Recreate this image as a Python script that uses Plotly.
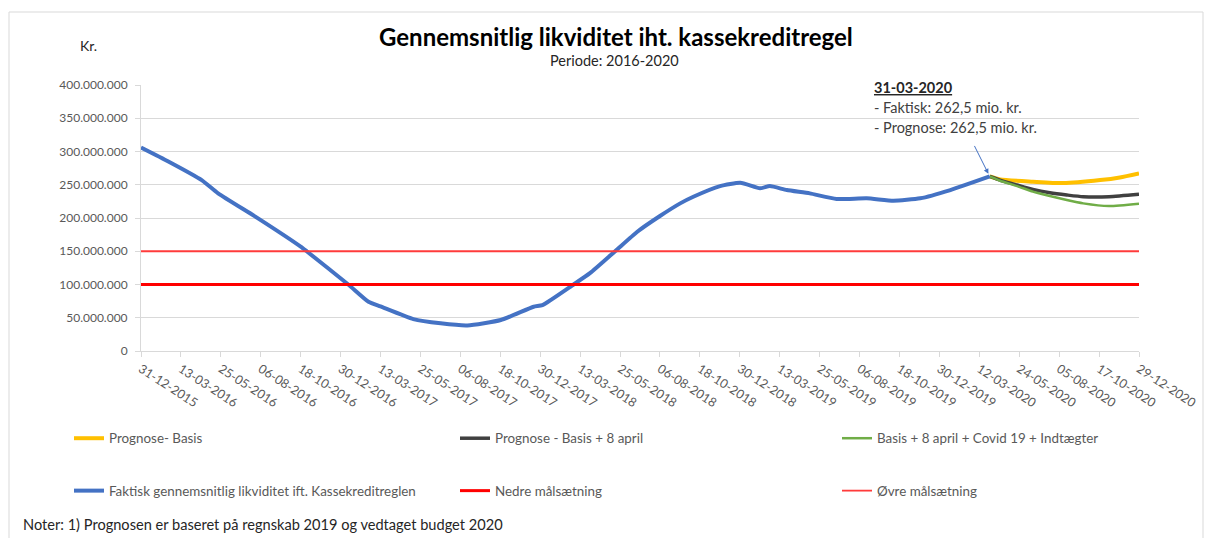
import plotly.graph_objects as go
from datetime import datetime

# ---------------- data ----------------
faktisk_dates = ["2015-12-31", "2016-02-19", "2016-04-20", "2016-05-20", "2016-08-01",
                 "2016-10-18", "2016-10-29", "2017-01-13", "2017-02-19", "2017-03-13",
                 "2017-05-12", "2017-07-01", "2017-08-19", "2017-10-19", "2017-12-18",
                 "2018-01-03", "2018-03-01", "2018-03-31", "2018-05-16", "2018-06-25",
                 "2018-08-06", "2018-09-12", "2018-10-06", "2018-11-24", "2018-12-31",
                 "2019-02-05", "2019-02-23", "2019-03-26", "2019-05-07", "2019-06-25",
                 "2019-08-19", "2019-10-07", "2019-11-25", "2020-01-19", "2020-03-31"]
faktisk_values = [306.0, 285.0, 257.0, 237.0, 199.5,
                  157.0, 150.0, 100.0, 74.0, 67.0,
                  48.0, 41.6, 38.5, 46.6, 66.6,
                  69.0, 100.0, 117.0, 150.0, 179.0,
                  203.0, 222.0, 232.0, 248.0, 253.0,
                  244.6, 248.0, 242.0, 237.0, 228.6,
                  229.6, 226.0, 229.6, 242.0, 262.5]

basis_dates = ["2020-03-31", "2020-04-19", "2020-06-18", "2020-08-12", "2020-10-19",
               "2020-11-24", "2020-12-29"]
basis_values = [262.5, 258.0, 254.6, 252.5, 257.0, 261.0, 267.0]

april_dates = ["2020-03-31", "2020-04-19", "2020-05-20", "2020-06-18", "2020-07-19",
               "2020-08-19", "2020-09-18", "2020-11-04", "2020-12-29"]
april_values = [262.5, 257.0, 249.6, 243.0, 238.0, 234.6, 232.0, 232.0, 235.6]

covid_dates = ["2020-03-31", "2020-04-19", "2020-05-20", "2020-06-18", "2020-07-19",
               "2020-08-19", "2020-09-18", "2020-11-04", "2020-12-29"]
covid_values = [262.5, 256.0, 248.0, 239.6, 233.0, 227.0, 222.0, 218.0, 221.5]

nedre_value = 100.0   # mio. kr.
ovre_value = 150.0    # mio. kr.

tick_labels = ["31-12-2015", "13-03-2016", "25-05-2016", "06-08-2016", "18-10-2016",
               "30-12-2016", "13-03-2017", "25-05-2017", "06-08-2017", "18-10-2017",
               "30-12-2017", "13-03-2018", "25-05-2018", "06-08-2018", "18-10-2018",
               "30-12-2018", "13-03-2019", "25-05-2019", "06-08-2019", "18-10-2019",
               "30-12-2019", "12-03-2020", "24-05-2020", "05-08-2020", "17-10-2020",
               "29-12-2020"]

MIO = 1_000_000
tick_vals = [datetime.strptime(t, "%d-%m-%Y").strftime("%Y-%m-%d") for t in tick_labels]
x_start, x_end = tick_vals[0], tick_vals[-1]

FONT = "Lato"
GRAY = "#595959"

fig = go.Figure()

fig.add_trace(go.Scatter(x=basis_dates, y=[v * MIO for v in basis_values], mode="lines",
                         name="Prognose- Basis", line=dict(color="#FFC000", width=4, shape="spline", smoothing=0.6),
                         legend="legend", legendgroup="a"))
fig.add_trace(go.Scatter(x=april_dates, y=[v * MIO for v in april_values], mode="lines",
                         name="Prognose - Basis + 8 april", line=dict(color="#404040", width=3.5, shape="spline", smoothing=0.6),
                         legend="legend2", legendgroup="b"))
fig.add_trace(go.Scatter(x=covid_dates, y=[v * MIO for v in covid_values], mode="lines",
                         name="Basis + 8 april + Covid 19 + Indtægter", line=dict(color="#70AD47", width=2.5, shape="spline", smoothing=0.6),
                         legend="legend3", legendgroup="c"))
fig.add_trace(go.Scatter(x=faktisk_dates, y=[v * MIO for v in faktisk_values], mode="lines",
                         name="Faktisk gennemsnitlig likviditet ift. Kassekreditreglen",
                         line=dict(color="#4472C4", width=4, shape="spline", smoothing=0.5),
                         legend="legend", legendgroup="d"))
fig.add_trace(go.Scatter(x=[x_start, x_end], y=[nedre_value * MIO] * 2, mode="lines",
                         name="Nedre målsætning", line=dict(color="#FF0000", width=3),
                         legend="legend2", legendgroup="e"))
fig.add_trace(go.Scatter(x=[x_start, x_end], y=[ovre_value * MIO] * 2, mode="lines",
                         name="Øvre målsætning", line=dict(color="#FF3B3B", width=1.8),
                         legend="legend3", legendgroup="f"))

L, R, T, B = 141, 66, 85, 187
W, H = 1205, 538
pw, ph = W - L - R, H - T - B


def px(x):
    return (x - L) / pw


def py(y):
    return (H - B - y) / ph


legend_common = dict(orientation="v", yanchor="top", xanchor="left", traceorder="grouped",
                     tracegroupgap=32, font=dict(family=FONT, size=13.4, color=GRAY),
                     bgcolor="rgba(0,0,0,0)", itemwidth=30)

fig.update_layout(
    width=W, height=H,
    margin=dict(l=L, r=R, t=T, b=B, autoexpand=False),
    paper_bgcolor="white", plot_bgcolor="white",
    separators=",.",
    font=dict(family=FONT, size=11, color=GRAY),
    showlegend=True,
    legend=dict(x=px(69), y=py(423), **legend_common),
    legend2=dict(x=px(455), y=py(423), **legend_common),
    legend3=dict(x=px(837), y=py(423), **legend_common),
    xaxis=dict(type="date", range=[x_start, x_end], tickmode="array", tickvals=tick_vals,
               ticktext=tick_labels, tickangle=33, showgrid=False, showline=True,
               linecolor="#d9d9d9", linewidth=1, ticks="outside", ticklen=5, tickcolor="#d9d9d9",
               tickfont=dict(family=FONT, size=12.5, color=GRAY), zeroline=False),
    yaxis=dict(range=[0, 400 * MIO], dtick=50 * MIO, tickformat=",.0f", showgrid=True,
               gridcolor="#d9d9d9", gridwidth=1, showline=True, linecolor="#d9d9d9",
               ticks="outside", ticklen=5, tickcolor="#d9d9d9", zeroline=False,
               ticklabelstandoff=5,
               tickfont=dict(family=FONT, size=12, color=GRAY)),
)

annotations = [
    dict(text="<b>Gennemsnitlig likviditet iht. kassekreditregel</b>", x=px(616), y=py(36),
         font=dict(family=FONT, size=24, color="black")),
    dict(text="Periode: 2016-2020", x=px(614), y=py(60), font=dict(family=FONT, size=14.5, color="#262626")),
    dict(text="Kr.", x=px(88), y=py(46), font=dict(family=FONT, size=14, color="#262626")),
    dict(text="<b><u>31-03-2020</u></b>", x=px(872), y=py(88), xanchor="left",
         font=dict(family=FONT, size=14.5, color="#262626")),
    dict(text="- Faktisk: 262,5 mio. kr.", x=px(872), y=py(107), xanchor="left",
         font=dict(family=FONT, size=14.5, color="#404040")),
    dict(text="- Prognose: 262,5 mio. kr.", x=px(872), y=py(127), xanchor="left",
         font=dict(family=FONT, size=14.5, color="#404040")),
    dict(text="Noter: 1) Prognosen er baseret på regnskab 2019 og vedtaget budget 2020", x=px(21), y=py(524),
         xanchor="left", font=dict(family=FONT, size=14.6, color="#262626")),
]
for a in annotations:
    a.setdefault("xanchor", "center")
    a.update(xref="paper", yref="paper", showarrow=False, yanchor="middle")
    fig.add_annotation(**a)

# arrow pointing at the last actual value
fig.add_annotation(x=faktisk_dates[-1], y=faktisk_values[-1] * MIO, xref="x", yref="y",
                   text="", showarrow=True, ax=-16, ay=-32, arrowhead=2, arrowsize=1,
                   arrowwidth=1, arrowcolor="#4472C4", standoff=3)

# outer chart border
fig.add_shape(type="rect", xref="paper", yref="paper", x0=px(9), x1=px(1203), y0=py(545), y1=py(12),
              line=dict(color="#d9d9d9", width=1), fillcolor="rgba(0,0,0,0)", layer="below")

fig.write_html("out.html", config={"displayModeBar": False},
               post_script="document.body.style.margin='0';")
